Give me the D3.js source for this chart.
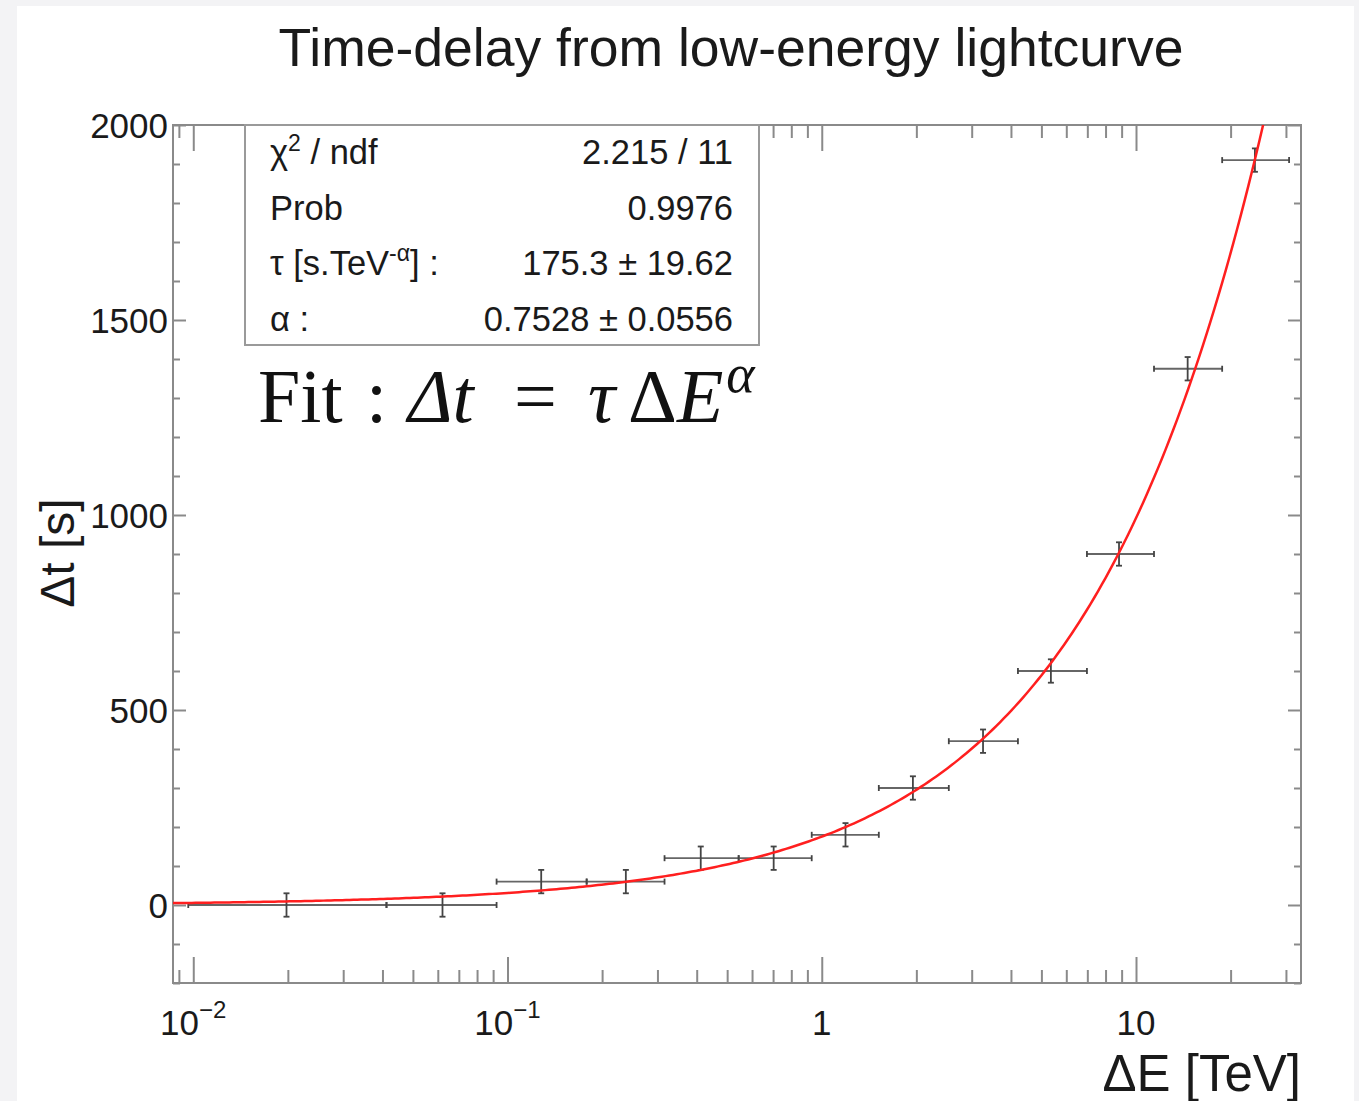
<!DOCTYPE html>
<html>
<head>
<meta charset="utf-8">
<script src="https://cdn.jsdelivr.net/npm/d3@7"></script>
<style>
  html, body { margin: 0; padding: 0; background: #f3f3f5; }
  svg { display: block; }
  text { font-family: "Liberation Sans", Arial, sans-serif; fill: #1a1a1a; }
</style>
</head>
<body>
<svg id="chart"></svg>
<script>
// energy difference, bin centre and edges [TeV]
const dE    = [0.0198, 0.0621, 0.128, 0.238, 0.412, 0.703, 1.19, 1.95, 3.26, 5.36, 8.83, 14.6, 23.9];
const dELow = [0.00964, 0.0412, 0.0923, 0.1786, 0.316, 0.544, 0.929, 1.519, 2.537, 4.21, 6.98, 11.41, 18.8];
const dEHigh= [0.0412, 0.0923, 0.1786, 0.316, 0.544, 0.929, 1.519, 2.537, 4.21, 6.98, 11.41, 18.8, 30.7];
// time delay [s] and its error
const dt    = [0, 0, 60, 60, 120, 120, 180, 300, 420, 600, 900, 1375, 1910];
const dtErr = [30, 30, 30, 30, 30, 30, 30, 30, 30, 30, 30, 30, 30];

// fit result Δt = τ ΔE^α
const fitTau = 175.3;
const fitAlpha = 0.7528;

const statLabels = ['χ2 / ndf', 'Prob', 'τ [s.TeV-α] :', 'α :'];
const statValues = ['2.215 / 11', '0.9976', '175.3 ± 19.62', '0.7528 ± 0.0556'];

const xMajorTicks = [0.01, 0.1, 1, 10];
const xMajorExp = ['−2', '−1', '', ''];
const yMajorTicks = [0, 500, 1000, 1500, 2000];

class DelayChart {
    constructor(config) {
        this.config = {
            parent: config.parent,
            width: config.width || 1359,
            height: config.height || 1101,
            frame: config.frame || {left: 173, top: 125, right: 1301, bottom: 983},
        };
        this.init();
    }

    init() {
        let self = this;
        const f = self.config.frame;

        self.svg = d3.select(self.config.parent)
            .attr('width', self.config.width)
            .attr('height', self.config.height);

        // white panel
        self.svg.append('rect')
            .attr('x', 17).attr('y', 6)
            .attr('width', 1337).attr('height', self.config.height - 6)
            .attr('fill', '#ffffff');

        self.xscale = d3.scaleLog()
            .domain([0.00862, 33.5])
            .range([f.left, f.right]);

        self.yscale = d3.scaleLinear()
            .domain([-200, 2000])
            .range([f.bottom, f.top]);

        self.svg.append('defs').append('clipPath')
            .attr('id', 'frameclip')
            .append('rect')
            .attr('x', f.left).attr('y', f.top)
            .attr('width', f.right - f.left).attr('height', f.bottom - f.top);
    }

    render() {
        let self = this;
        const f = self.config.frame;
        const axisColor = '#8a8a8a';

        // minor tick positions
        const xMinor = [];
        for (let e = -3; e <= 1; e++) {
            for (let m = 2; m <= 9; m++) {
                const v = m * Math.pow(10, e);
                if (v > self.xscale.domain()[0] && v < self.xscale.domain()[1]) xMinor.push(v);
            }
        }
        const yMinor = d3.range(-200, 2001, 100).filter(v => v % 500 !== 0);

        const styleAxis = g => {
            g.select('.domain').remove();
            g.selectAll('.tick line').attr('stroke', axisColor).attr('stroke-width', 2);
            g.selectAll('.tick text').remove();
        };

        const axes = [
            [d3.axisBottom(self.xscale).tickValues(xMajorTicks).tickSize(-26), `translate(0,${f.bottom})`],
            [d3.axisBottom(self.xscale).tickValues(xMinor).tickSize(-13), `translate(0,${f.bottom})`],
            [d3.axisTop(self.xscale).tickValues(xMajorTicks).tickSize(-26), `translate(0,${f.top})`],
            [d3.axisTop(self.xscale).tickValues(xMinor).tickSize(-13), `translate(0,${f.top})`],
            [d3.axisLeft(self.yscale).tickValues(yMajorTicks).tickSize(-13), `translate(${f.left},0)`],
            [d3.axisLeft(self.yscale).tickValues(yMinor).tickSize(-7), `translate(${f.left},0)`],
            [d3.axisRight(self.yscale).tickValues(yMajorTicks).tickSize(-13), `translate(${f.right},0)`],
            [d3.axisRight(self.yscale).tickValues(yMinor).tickSize(-7), `translate(${f.right},0)`],
        ];
        axes.forEach(([ax, tr]) => {
            self.svg.append('g').attr('transform', tr).call(ax).call(styleAxis);
        });

        // frame
        self.svg.append('rect')
            .attr('x', f.left).attr('y', f.top)
            .attr('width', f.right - f.left).attr('height', f.bottom - f.top)
            .attr('fill', 'none')
            .attr('stroke', axisColor)
            .attr('stroke-width', 2);

        // y tick labels
        self.svg.append('g').selectAll('text')
            .data(yMajorTicks)
            .join('text')
            .attr('x', f.left - 5)
            .attr('y', d => self.yscale(d))
            .attr('dy', '0.36em')
            .attr('text-anchor', 'end')
            .style('font-size', '35px')
            .text(d => d);

        // x tick labels
        const xl = self.svg.append('g').selectAll('text')
            .data(xMajorTicks)
            .join('text')
            .attr('x', d => self.xscale(d))
            .attr('y', 1035)
            .attr('text-anchor', 'middle')
            .style('font-size', '35px');
        xl.append('tspan').text(d => d >= 1 ? d : '10');
        xl.append('tspan')
            .attr('dy', -17)
            .style('font-size', '24px')
            .text((d, i) => xMajorExp[i]);

        // axis titles
        self.svg.append('text')
            .attr('x', f.right)
            .attr('y', 1091)
            .attr('text-anchor', 'end')
            .style('font-size', '51px')
            .text('ΔE [TeV]');

        self.svg.append('text')
            .attr('transform', `translate(74, 553) rotate(-90)`)
            .attr('text-anchor', 'middle')
            .style('font-size', '48px')
            .text('Δt [s]');

        // title
        self.svg.append('text')
            .attr('x', 731)
            .attr('y', 66)
            .attr('text-anchor', 'middle')
            .style('font-size', '53.5px')
            .text('Time-delay from low-energy lightcurve');

        // data with error bars
        const data = dE.map((e, i) => ({e: e, lo: dELow[i], hi: dEHigh[i], t: dt[i], err: dtErr[i]}));
        const pts = self.svg.append('g')
            .attr('clip-path', 'url(#frameclip)')
            .selectAll('g')
            .data(data)
            .join('g')
            .attr('stroke', '#444')
            .attr('stroke-width', 1.8);
        const cap = 3;
        pts.append('line')
            .attr('x1', d => self.xscale(d.lo)).attr('x2', d => self.xscale(d.hi))
            .attr('y1', d => self.yscale(d.t)).attr('y2', d => self.yscale(d.t))
            .attr('stroke', '#666');
        pts.append('line')
            .attr('x1', d => self.xscale(d.e)).attr('x2', d => self.xscale(d.e))
            .attr('y1', d => self.yscale(d.t - d.err)).attr('y2', d => self.yscale(d.t + d.err));
        ['lo', 'hi'].forEach(k => {
            pts.append('line')
                .attr('x1', d => self.xscale(d[k])).attr('x2', d => self.xscale(d[k]))
                .attr('y1', d => self.yscale(d.t) - cap).attr('y2', d => self.yscale(d.t) + cap);
        });
        [-1, 1].forEach(s => {
            pts.append('line')
                .attr('x1', d => self.xscale(d.e) - cap).attr('x2', d => self.xscale(d.e) + cap)
                .attr('y1', d => self.yscale(d.t + s * d.err)).attr('y2', d => self.yscale(d.t + s * d.err));
        });

        // fit function
        const xr = self.xscale.domain();
        const fitX = d3.range(0, 301).map(i => xr[0] * Math.pow(xr[1] / xr[0], i / 300));
        const line = d3.line()
            .x(d => self.xscale(d))
            .y(d => self.yscale(fitTau * Math.pow(d, fitAlpha)));
        self.svg.append('path')
            .attr('clip-path', 'url(#frameclip)')
            .attr('d', line(fitX))
            .attr('fill', 'none')
            .attr('stroke', '#ff1f1f')
            .attr('stroke-width', 2.5);

        // stats box
        self.svg.append('rect')
            .attr('x', 245).attr('y', f.top)
            .attr('width', 514).attr('height', 220)
            .attr('fill', '#ffffff')
            .attr('stroke', '#9a9a9a')
            .attr('stroke-width', 2);
        const rowY = i => 164 + i * 55.7;
        const lab = self.svg.append('g').selectAll('text')
            .data(statLabels)
            .join('text')
            .attr('x', 270)
            .attr('y', (d, i) => rowY(i))
            .style('font-size', '34.5px');
        lab.each(function(d) {
            const t = d3.select(this);
            if (d.startsWith('χ2')) {
                t.append('tspan').text('χ');
                t.append('tspan').attr('dy', -13).style('font-size', '23px').text('2');
                t.append('tspan').attr('dy', 13).text(' / ndf');
            } else if (d.startsWith('τ')) {
                t.append('tspan').text('τ [s.TeV');
                t.append('tspan').attr('dy', -14).style('font-size', '23px').text('-α');
                t.append('tspan').attr('dy', 14).text('] :');
            } else {
                t.text(d);
            }
        });
        self.svg.append('g').selectAll('text')
            .data(statValues)
            .join('text')
            .attr('x', 733)
            .attr('y', (d, i) => rowY(i))
            .attr('text-anchor', 'end')
            .style('font-size', '34.5px')
            .text(d => d);

        // formula, placed piece by piece to mimic math spacing
        const fm = self.svg.append('text')
            .attr('y', 422)
            .style('font-family', '"Liberation Serif", "DejaVu Serif", serif')
            .style('font-size', '76px')
            .style('fill', '#111');
        const pieces = [
            {t: 'Fit', x: 258},
            {t: ':', x: 366},
            {t: 'Δt', x: 408, it: true},
            {t: '=', x: 514},
            {t: 'τ', x: 588, it: true},
            {t: 'Δ', x: 628},
            {t: 'E', it: true},
        ];
        pieces.forEach(p => {
            const s = fm.append('tspan')
                .style('font-style', p.it ? 'italic' : 'normal')
                .text(p.t);
            if (p.x !== undefined) s.attr('x', p.x);
        });
        fm.append('tspan')
            .attr('dx', 3)
            .attr('dy', -30)
            .style('font-style', 'italic')
            .style('font-size', '54px')
            .text('α');
    }
}

const chart = new DelayChart({parent: '#chart'});
chart.render();
</script>
</body>
</html>
